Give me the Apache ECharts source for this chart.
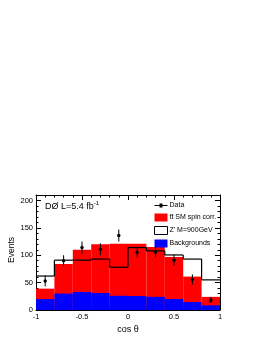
<!DOCTYPE html>
<html><head><meta charset="utf-8">
<script src="https://cdn.jsdelivr.net/npm/echarts@6/dist/echarts.min.js"></script>
<style>html,body{margin:0;padding:0;background:#fff}#c{width:264px;height:341px}</style>
</head><body><div id="c"></div>
<script>
// bin edges of cos theta histogram
const binLow  = [-1.0, -0.8, -0.6, -0.4, -0.2, 0.0, 0.2, 0.4, 0.6, 0.8];
const binHigh = [-0.8, -0.6, -0.4, -0.2, 0.0, 0.2, 0.4, 0.6, 0.8, 1.0];
const binCenters = [-0.9, -0.7, -0.5, -0.3, -0.1, 0.1, 0.3, 0.5, 0.7, 0.9];
// stacked components (events)
const ttbarSM     = [19, 54, 77, 89, 95, 95.5, 91, 77, 46.5, 15.5];
const backgrounds = [20, 30, 33, 31, 26, 25.5, 24, 20, 14.5, 8.5];
// Z' M=900GeV prediction
const zprime = [62, 91, 91, 93, 78, 114, 108, 100.5, 93, 55];
// data with errors
const dataVals = [53, 90, 114, 111, 136, 105, 106, 91, 56, 18];
const dataErr  = [10, 10, 11, 11, 11, 10, 10, 10, 9, 5];
const yTickLabels = [0, 50, 100, 150, 200];
const xTickLabels = [-1, -0.5, 0, 0.5, 1];

const FONT = 'Liberation Sans, Arial, Helvetica, sans-serif';

const totalRows = binLow.map((x, i) => [x, binHigh[i], ttbarSM[i] + backgrounds[i]]);
const bkgRows = binLow.map((x, i) => [x, binHigh[i], backgrounds[i]]);
const zRows = binLow.map((x, i) => [x, binHigh[i], zprime[i], i > 0 ? zprime[i - 1] : zprime[i]]);
const dataRows = binCenters.map((x, i) => [x, dataVals[i], dataErr[i]]);

function rectRender(color) {
  return function (params, api) {
    const p0 = api.coord([api.value(0), api.value(2)]);
    const p1 = api.coord([api.value(1), 0]);
    return { type: 'rect', shape: { x: p0[0], y: p0[1], width: p1[0] - p0[0], height: p1[1] - p0[1] },
             style: { fill: color } };
  };
}
function stepRender(params, api) {
  const a = api.coord([api.value(0), api.value(2)]);
  const b = api.coord([api.value(1), api.value(2)]);
  const c = api.coord([api.value(0), api.value(3)]);
  return { type: 'group', children: [
    { type: 'line', shape: { x1: a[0], y1: a[1], x2: b[0], y2: b[1] }, style: { stroke: '#000', lineWidth: 1.2 } },
    { type: 'line', shape: { x1: c[0], y1: c[1], x2: a[0], y2: a[1] }, style: { stroke: '#000', lineWidth: 1.2 } }
  ]};
}
function dataRender(params, api) {
  const p = api.coord([api.value(0), api.value(1)]);
  const lo = api.coord([api.value(0), api.value(1) - api.value(2)]);
  const hi = api.coord([api.value(0), api.value(1) + api.value(2)]);
  return { type: 'group', children: [
    { type: 'line', shape: { x1: p[0], y1: lo[1], x2: p[0], y2: hi[1] }, style: { stroke: '#000', lineWidth: 1 } },
    { type: 'circle', shape: { cx: p[0], cy: p[1], r: 1.7 }, style: { fill: '#000' } }
  ]};
}

const chart = echarts.init(document.getElementById('c'), null, { renderer: 'canvas' });
const tickCommon = { show: true, inside: true, length: 5, lineStyle: { color: '#000', width: 1 } };
const minorCommon = { show: true, splitNumber: 5, length: 2.5, lineStyle: { color: '#000', width: 1 } };
const lineCommon = { show: true, onZero: false, lineStyle: { color: '#000', width: 1 } };
chart.setOption({
  backgroundColor: '#fff',
  animation: false,
  grid: { left: 36, right: 44, top: 195, bottom: 31, containLabel: false },
  graphic: [
    { type: 'text', left: 45, top: 200, style: {
        text: '{a|DØ L=5.4 fb}{s|-1}', font: '9px ' + FONT, fill: '#000',
        rich: { a: { fontSize: 9, fontFamily: FONT, verticalAlign: 'bottom' },
                s: { fontSize: 6, fontFamily: FONT, verticalAlign: 'top', padding: [0, 0, 5, 0] } } } },
    { type: 'text', x: 12, y: 250, rotation: Math.PI / 2, style: {
        text: 'Events', font: '8.5px ' + FONT, fill: '#000', align: 'center', verticalAlign: 'middle' } }
  ],
  legend: {
    orient: 'vertical', left: 149, top: 197, itemWidth: 13, itemHeight: 8, itemGap: 4.5,
    textStyle: { fontSize: 7, fontFamily: FONT, color: '#000', padding: [0, 0, 0, -3] },
    data: [
      { name: 'Data', icon: 'path://M0,3.5h13v1H0z M5,2h3v4H5z', itemStyle: { color: '#000' } },
      { name: 'tt̄ SM spin corr.', icon: 'rect', itemStyle: { color: '#ff0000' } },
      { name: "Z' M=900GeV", icon: 'rect', itemStyle: { color: '#fff', borderColor: '#000', borderWidth: 1 } },
      { name: 'Backgrounds', icon: 'rect', itemStyle: { color: '#0000ff' } }
    ]
  },
  xAxis: [
    { type: 'value', min: -1, max: 1, interval: 0.5, position: 'bottom',
      axisLine: lineCommon,
      axisTick: tickCommon, minorTick: minorCommon, splitLine: { show: false },
      axisLabel: { fontSize: 7.5, fontFamily: FONT, color: '#000', margin: 3,
                   formatter: v => (xTickLabels.indexOf(v) >= 0 ? String(v) : '') },
      name: 'cos θ', nameLocation: 'middle', nameGap: 15,
      nameTextStyle: { fontSize: 9, fontFamily: FONT, color: '#000' } },
    { type: 'value', min: -1, max: 1, interval: 0.5, position: 'top',
      axisLine: lineCommon,
      axisTick: tickCommon, minorTick: minorCommon, splitLine: { show: false }, axisLabel: { show: false } }
  ],
  yAxis: [
    { type: 'value', min: 0, max: 210, interval: 50, position: 'left',
      axisLine: lineCommon,
      axisTick: tickCommon, minorTick: minorCommon, splitLine: { show: false },
      axisLabel: { fontSize: 7.5, fontFamily: FONT, color: '#000', margin: 3, showMaxLabel: false,
                   formatter: v => (yTickLabels.indexOf(v) >= 0 ? String(v) : '') } },
    { type: 'value', min: 0, max: 210, interval: 50, position: 'right',
      axisLine: lineCommon,
      axisTick: tickCommon, minorTick: minorCommon, splitLine: { show: false }, axisLabel: { show: false } }
  ],
  series: [
    { name: 'tt̄ SM spin corr.', type: 'custom', renderItem: rectRender('#ff0000'), data: totalRows,
      encode: { x: [0, 1], y: 2 }, itemStyle: { color: '#ff0000' }, z: 1 },
    { name: 'Backgrounds', type: 'custom', renderItem: rectRender('#0000ff'), data: bkgRows,
      encode: { x: [0, 1], y: 2 }, itemStyle: { color: '#0000ff' }, z: 2 },
    { name: "Z' M=900GeV", type: 'custom', renderItem: stepRender, data: zRows,
      encode: { x: [0, 1], y: [2, 3] }, itemStyle: { color: '#fff' }, z: 3 },
    { name: 'Data', type: 'custom', renderItem: dataRender, data: dataRows,
      encode: { x: 0, y: 1 }, itemStyle: { color: '#000' }, z: 4 }
  ]
});
</script></body></html>
